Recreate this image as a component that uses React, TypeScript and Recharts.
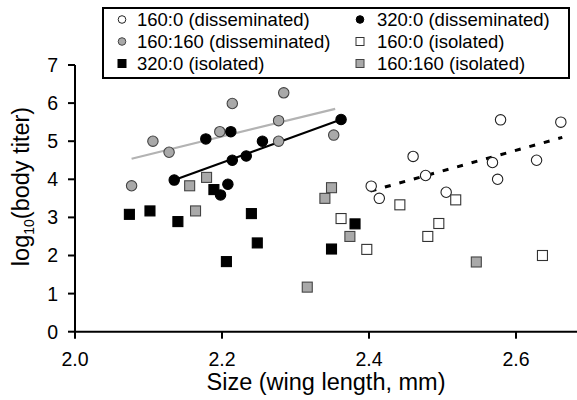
import React from 'react';
import { ScatterChart, Scatter, XAxis, YAxis, ReferenceLine, Legend } from 'recharts';

const FONT = '"Liberation Sans", Arial, Helvetica, sans-serif';

// ---- data ----
const diss160_0 = [
  { x: 2.403, y: 3.82 }, { x: 2.414, y: 3.5 }, { x: 2.46, y: 4.6 }, { x: 2.477, y: 4.1 },
  { x: 2.505, y: 3.66 }, { x: 2.568, y: 4.44 }, { x: 2.575, y: 4.0 }, { x: 2.579, y: 5.56 },
  { x: 2.628, y: 4.5 }, { x: 2.661, y: 5.5 },
];
const diss320_0 = [
  { x: 2.135, y: 3.98 }, { x: 2.178, y: 5.06 }, { x: 2.212, y: 5.25 }, { x: 2.214, y: 4.5 },
  { x: 2.233, y: 4.61 }, { x: 2.255, y: 5.0 }, { x: 2.362, y: 5.57 }, { x: 2.198, y: 3.59 },
  { x: 2.208, y: 3.87 },
];
const diss160_160 = [
  { x: 2.077, y: 3.83 }, { x: 2.106, y: 5.0 }, { x: 2.128, y: 4.71 }, { x: 2.197, y: 5.25 },
  { x: 2.214, y: 5.99 }, { x: 2.277, y: 5.54 }, { x: 2.284, y: 6.27 }, { x: 2.277, y: 5.0 },
  { x: 2.352, y: 5.16 },
];
const iso160_0 = [
  { x: 2.362, y: 2.97 }, { x: 2.397, y: 2.16 }, { x: 2.442, y: 3.33 }, { x: 2.518, y: 3.46 },
  { x: 2.495, y: 2.84 }, { x: 2.48, y: 2.5 }, { x: 2.636, y: 2.0 },
];
const iso320_0 = [
  { x: 2.074, y: 3.08 }, { x: 2.102, y: 3.17 }, { x: 2.14, y: 2.89 }, { x: 2.189, y: 3.73 },
  { x: 2.24, y: 3.1 }, { x: 2.248, y: 2.33 }, { x: 2.206, y: 1.84 }, { x: 2.349, y: 2.17 },
  { x: 2.381, y: 2.83 },
];
const iso160_160 = [
  { x: 2.156, y: 3.83 }, { x: 2.179, y: 4.05 }, { x: 2.164, y: 3.17 }, { x: 2.349, y: 3.78 },
  { x: 2.34, y: 3.5 }, { x: 2.374, y: 2.5 }, { x: 2.316, y: 1.17 }, { x: 2.546, y: 1.83 },
];

const fit160_160 = [{ x: 2.077, y: 4.54 }, { x: 2.354, y: 5.85 }];
const fit320_0 = [{ x: 2.135, y: 3.98 }, { x: 2.362, y: 5.57 }];
const fit160_0 = [{ x: 2.402, y: 3.69 }, { x: 2.663, y: 5.1 }];

const xTicks = [2.0, 2.2, 2.4, 2.6];
const yTicks = [0, 1, 2, 3, 4, 5, 6, 7];

const GRAY = '#a9a9a9';

type Kind = 'circle' | 'square';
const legendItems: { name: string; kind: Kind; fill: string; stroke: string }[] = [
  { name: '160:0 (disseminated)', kind: 'circle', fill: '#ffffff', stroke: '#222' },
  { name: '320:0 (disseminated)', kind: 'circle', fill: '#000000', stroke: '#000' },
  { name: '160:160 (disseminated)', kind: 'circle', fill: GRAY, stroke: '#444' },
  { name: '160:0 (isolated)', kind: 'square', fill: '#ffffff', stroke: '#333' },
  { name: '320:0 (isolated)', kind: 'square', fill: '#000000', stroke: '#000' },
  { name: '160:160 (isolated)', kind: 'square', fill: GRAY, stroke: '#444' },
];

const makeShape = (kind: Kind, fill: string, stroke: string) => (props: any) => {
  const { cx, cy } = props;
  if (cx == null || cy == null) return null;
  if (kind === 'circle') {
    return <circle cx={cx} cy={cy} r={5.2} fill={fill} stroke={stroke} strokeWidth={1.1} />;
  }
  return <rect x={cx - 5} y={cy - 5} width={10} height={10} fill={fill} stroke={stroke} strokeWidth={1.1} />;
};

const renderLegend = () => {
  const rows = [12.5, 34.5, 56.5];
  const cols = [{ m: 20, t: 35 }, { m: 258, t: 275 }];
  const fs = 18.5;
  return (
    <svg width={468} height={72} style={{ display: 'block' }}>
      <rect x={1} y={1} width={466} height={70} fill="#fff" stroke="#000" strokeWidth={2} />
      {legendItems.map((it, i) => {
        const r = rows[Math.floor(i / 2)];
        const c = cols[i % 2];
        return (
          <g key={it.name}>
            {it.kind === 'circle' ? (
              <circle cx={c.m} cy={r} r={3.8} fill={it.fill} stroke={it.stroke} strokeWidth={1} />
            ) : (
              <rect x={c.m - 4} y={r - 4} width={8} height={8} fill={it.fill} stroke={it.stroke} strokeWidth={1} />
            )}
            <text x={c.t} y={r + 0.358 * fs} fontSize={fs} fontFamily={FONT} fill="#000">
              {it.name}
            </text>
          </g>
        );
      })}
    </svg>
  );
};

const XTitle = (props: any) => {
  const vb = props.viewBox || {};
  return (
    <text x={vb.x + vb.width / 2} y={389.5} textAnchor="middle" fontSize={23.5} fontFamily={FONT} fill="#000">
      Size (wing length, mm)
    </text>
  );
};

const YTitle = () => {
  const x = 28.5;
  const y = 186.5;
  return (
    <text x={x} y={y} transform={`rotate(-90 ${x} ${y})`} textAnchor="middle" fontSize={23.5} fontFamily={FONT} fill="#000">
      log
      <tspan fontSize={14} dy={5}>10</tspan>
      <tspan dy={-5}>(body titer)</tspan>
    </text>
  );
};

export default function App() {
  const tickStyle = { fontSize: 19.5, fill: '#000', fontFamily: FONT };
  return (
    <div style={{ position: 'absolute', left: 0, top: 0, width: 577, height: 400, background: '#fff' }}>
      <ScatterChart width={577} height={400} margin={{ top: 65, right: 0, bottom: 0, left: 0 }}>
        <XAxis
          type="number"
          dataKey="x"
          domain={[2.0, 2.683]}
          ticks={xTicks}
          tickFormatter={(v: number) => v.toFixed(1)}
          height={68.3}
          tickSize={7}
          tickMargin={13}
          tick={tickStyle}
          axisLine={{ stroke: '#000', strokeWidth: 2 }}
          tickLine={{ stroke: '#000', strokeWidth: 2 }}
          allowDataOverflow
          label={<XTitle />}
        />
        <YAxis
          type="number"
          dataKey="y"
          domain={[0, 7]}
          ticks={yTicks}
          width={75}
          tickSize={7}
          tickMargin={10}
          tick={tickStyle}
          axisLine={{ stroke: '#000', strokeWidth: 2 }}
          tickLine={{ stroke: '#000', strokeWidth: 2 }}
          allowDataOverflow
          label={<YTitle />}
        />
        <Legend
          layout="horizontal"
          verticalAlign="middle"
          align="center"
          content={renderLegend}
          wrapperStyle={{ left: 102, top: 7, width: 468, height: 72 }}
        />
        <ReferenceLine segment={fit160_160} stroke="#b3b3b3" strokeWidth={2.2} ifOverflow="visible" />
        <ReferenceLine segment={fit320_0} stroke="#000" strokeWidth={2.2} ifOverflow="visible" />
        <ReferenceLine segment={fit160_0} stroke="#000" strokeWidth={3} strokeDasharray="6 9" ifOverflow="visible" />
        <Scatter name="160:160 (disseminated)" data={diss160_160} shape={makeShape('circle', GRAY, '#444')} isAnimationActive={false} />
        <Scatter name="160:160 (isolated)" data={iso160_160} shape={makeShape('square', GRAY, '#444')} isAnimationActive={false} />
        <Scatter name="320:0 (isolated)" data={iso320_0} shape={makeShape('square', '#000', '#000')} isAnimationActive={false} />
        <Scatter name="160:0 (isolated)" data={iso160_0} shape={makeShape('square', '#fff', '#333')} isAnimationActive={false} />
        <Scatter name="160:0 (disseminated)" data={diss160_0} shape={makeShape('circle', '#fff', '#222')} isAnimationActive={false} />
        <Scatter name="320:0 (disseminated)" data={diss320_0} shape={makeShape('circle', '#000', '#000')} isAnimationActive={false} />
      </ScatterChart>
    </div>
  );
}
